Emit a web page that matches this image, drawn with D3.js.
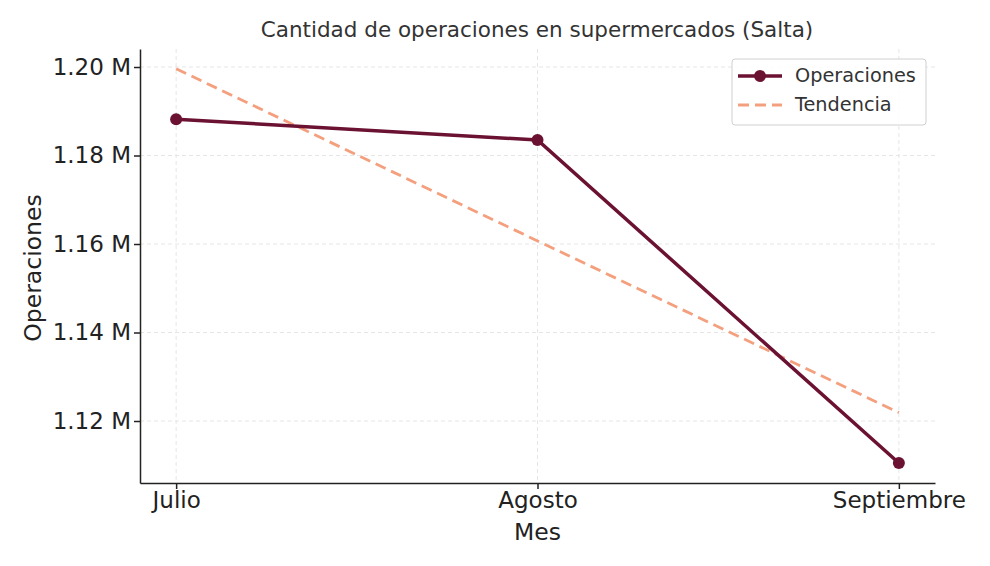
<!DOCTYPE html>
<html>
<head>
<meta charset="utf-8">
<script src="https://cdn.jsdelivr.net/npm/d3@7"></script>
<style>
  body { margin: 0; background: #fff; font-family: "DejaVu Sans", sans-serif; }
  .grid line { stroke: #e6e6e6; stroke-dasharray: 4,3; }
  .axis text { fill: #222; font-size: 23px; font-family: "DejaVu Sans", sans-serif; }
  .axis line, .axis path { stroke: #222; stroke-width: 1.5; }
</style>
</head>
<body>
<svg id="chart"></svg>
<script>
const months = ['Julio', 'Agosto', 'Septiembre'];
const operaciones = [1188200, 1183500, 1110500];
const tendencia = [1199600, 1160700, 1121900];
const yTicks = [1120000, 1140000, 1160000, 1180000, 1200000];

const width = 990, height = 566;
const margin = {top: 49, right: 55, bottom: 83, left: 140};
const w = width - margin.left - margin.right;
const h = height - margin.top - margin.bottom;

const svg = d3.select('#chart').attr('width', width).attr('height', height);
const chart = svg.append('g').attr('transform', `translate(${margin.left},${margin.top})`);

const x = d3.scaleLinear().domain([-0.1, 2.1]).range([0, w]);
const y = d3.scaleLinear().domain([1105990, 1204070]).range([h, 0]);

// grid
chart.append('g').attr('class', 'grid')
  .selectAll('line.h').data(yTicks).join('line')
  .attr('x1', 0).attr('x2', w).attr('y1', d => y(d)).attr('y2', d => y(d));
chart.append('g').attr('class', 'grid')
  .selectAll('line.v').data(months).join('line')
  .attr('x1', (d, i) => x(i)).attr('x2', (d, i) => x(i)).attr('y1', 0).attr('y2', h);

// axes
const xAxis = d3.axisBottom(x).tickValues([0, 1, 2]).tickFormat(i => months[i]).tickSize(6).tickPadding(3).tickSizeOuter(0);
const yAxis = d3.axisLeft(y).tickValues(yTicks).tickFormat(d => d3.format('.2f')(d / 1e6) + ' M').tickSize(6).tickPadding(3).tickSizeOuter(0);

chart.append('g').attr('class', 'axis').attr('transform', `translate(0,${h})`).call(xAxis);
chart.append('g').attr('class', 'axis').call(yAxis);

// trend
const line = d3.line().x((d, i) => x(i)).y(d => y(d));
chart.append('path').datum(tendencia)
  .attr('d', line).attr('fill', 'none')
  .attr('stroke', '#f4a07e').attr('stroke-width', 2.8).attr('stroke-dasharray', '11,6');

// main series
chart.append('path').datum(operaciones)
  .attr('d', line).attr('fill', 'none')
  .attr('stroke', '#6b1232').attr('stroke-width', 3.5);
chart.selectAll('.pt').data(operaciones).join('circle')
  .attr('class', 'pt')
  .attr('cx', (d, i) => x(i)).attr('cy', d => y(d)).attr('r', 6)
  .attr('fill', '#6b1232');

// titles
svg.append('text').attr('x', 537).attr('y', 37).attr('text-anchor', 'middle')
  .attr('fill', '#333').style('font-size', '21.5px').text('Cantidad de operaciones en supermercados (Salta)');
svg.append('text').attr('x', margin.left + x(1)).attr('y', 540).attr('text-anchor', 'middle')
  .attr('fill', '#222').style('font-size', '23.5px').text('Mes');
svg.append('text').attr('transform', `translate(41,${margin.top + h / 2 + 2}) rotate(-90)`)
  .attr('text-anchor', 'middle').attr('fill', '#222').style('font-size', '23.5px').text('Operaciones');

// legend
const lg = svg.append('g').attr('transform', 'translate(732,59)');
lg.append('rect').attr('width', 194).attr('height', 66).attr('rx', 3)
  .attr('fill', '#fff').attr('fill-opacity', 0.85).attr('stroke', '#d0d0d0');
lg.append('line').attr('x1', 6).attr('x2', 50).attr('y1', 17).attr('y2', 17)
  .attr('stroke', '#6b1232').attr('stroke-width', 3.5);
lg.append('circle').attr('cx', 28).attr('cy', 17).attr('r', 6).attr('fill', '#6b1232');
lg.append('line').attr('x1', 6).attr('x2', 50).attr('y1', 46).attr('y2', 46)
  .attr('stroke', '#f4a07e').attr('stroke-width', 2.8).attr('stroke-dasharray', '11,6');
lg.append('text').attr('x', 63).attr('y', 23).attr('fill', '#333').style('font-size', '19.3px').text('Operaciones');
lg.append('text').attr('x', 63).attr('y', 52).attr('fill', '#333').style('font-size', '19.3px').text('Tendencia');
</script>
</body>
</html>
